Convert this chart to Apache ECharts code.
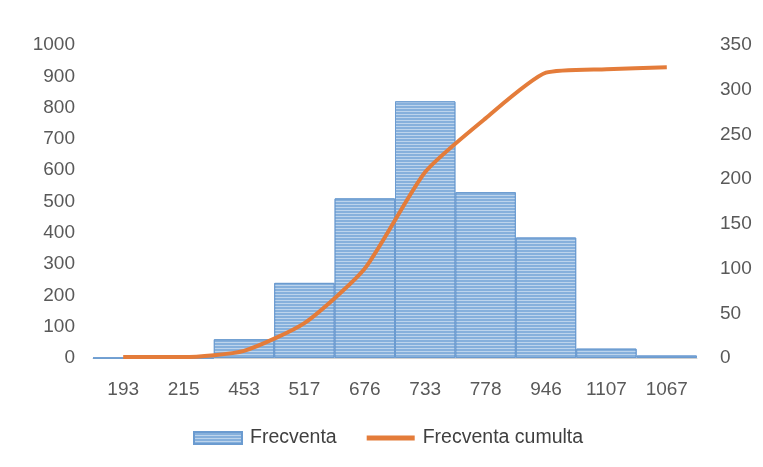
<!DOCTYPE html>
<html><head><meta charset="utf-8">
<script src="https://cdn.jsdelivr.net/npm/echarts@6/dist/echarts.min.js"></script>
<style>html,body{margin:0;padding:0;background:#fff}#c{width:763px;height:467px}</style>
</head><body><div id="c"></div>
<script>
const categories = ['193','215','453','517','676','733','778','946','1107','1067'];
const frecventa = [0, 0, 60, 240, 510, 820, 530, 385, 30, 8];
const cumulata = [1, 1, 8, 39, 100, 208, 268, 319, 323, 325];
const leftTicks = [0, 1000, 100];
const rightTicks = [0, 350, 50];

const chart = echarts.init(document.getElementById('c'));
const lbl = {color:'#595959', fontSize:19, fontFamily:'Liberation Sans, Arial', formatter:v=>String(v)};
chart.setOption({
  animation:false,
  grid:{left:93, right:66, top:45, bottom:109},
  legend:{bottom:14, left:188, itemGap:30, itemWidth:48, itemHeight:12,
    textStyle:{color:'#404040', fontSize:19.5, fontFamily:'Liberation Sans, Arial', padding:[0,0,0,3]},
    data:[{name:'Frecventa', icon:'rect'},
          {name:'Frecventa cumulta', icon:'path://M0,0 L50,0 L50,5 L0,5 Z'}]},
  xAxis:{type:'category', data:categories,
    axisLine:{lineStyle:{color:'#d0d0d0', width:1}}, axisTick:{show:false},
    axisLabel:{margin:22, color:'#595959', fontSize:19, fontFamily:'Liberation Sans, Arial'}},
  yAxis:[
    {type:'value', min:leftTicks[0], max:leftTicks[1], interval:leftTicks[2],
     axisLabel:Object.assign({margin:18}, lbl), splitLine:{show:false}, axisLine:{show:false}},
    {type:'value', min:rightTicks[0], max:rightTicks[1], interval:rightTicks[2],
     axisLabel:Object.assign({margin:23}, lbl), splitLine:{show:false}, axisLine:{show:false}}
  ],
  series:[
    {name:'Frecventa', type:'bar', data:frecventa, barCategoryGap:'0%',
     itemStyle:{color:'#86b0dc', borderColor:'#6b9bd0', borderWidth:1,
       decal:{symbol:'rect', color:'rgba(255,255,255,0.45)', dashArrayX:[[1,0]], dashArrayY:[1,2], rotation:0}}},
    {name:'Frecventa cumulta', type:'line', yAxisIndex:1, data:cumulata, smooth:0.2,
     symbol:'none', lineStyle:{color:'#e47c3a', width:4}, itemStyle:{color:'#e47c3a'}}
  ]
});
</script></body></html>
